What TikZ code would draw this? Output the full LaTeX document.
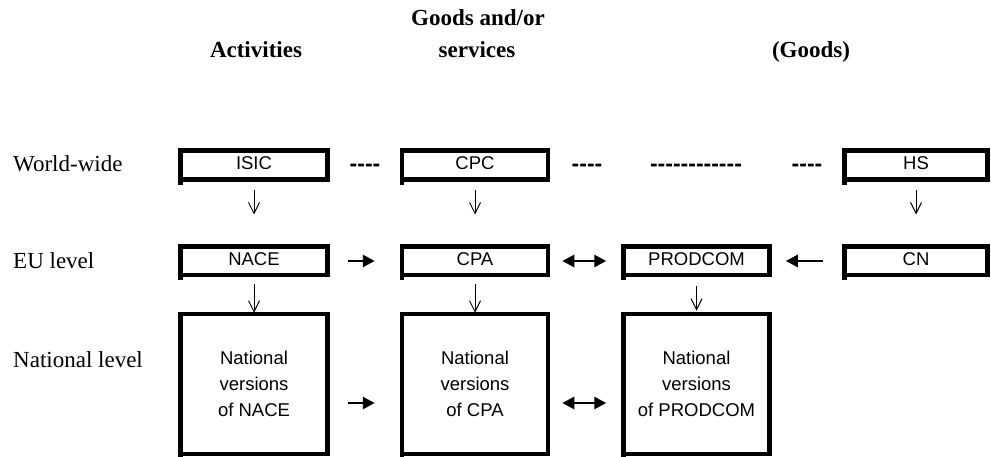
\documentclass[tikz,border=0pt]{standalone}
\usepackage{fontspec}
\setmainfont{Liberation Serif}
\newfontfamily\arialf{Liberation Sans}
\usetikzlibrary{arrows.meta}
\begin{document}
\begin{tikzpicture}[x=1pt,y=-1pt,
  clbox/.style={draw, line width=4.5pt, inner sep=0pt, font=\arialf\fontsize{18.5}{26}\selectfont, text height=13.5pt, text depth=5pt, minimum height=29pt},
  natbox/.style={draw, line width=4.5pt, inner sep=0pt, font=\arialf\fontsize{18.5}{26.3}\selectfont, align=center, minimum height=140pt, minimum width=147pt},
  lbl/.style={anchor=base west, inner sep=0pt, font=\fontsize{23}{27}\selectfont},
  hdr/.style={anchor=base, inner sep=0pt, font=\bfseries\fontsize{23}{27}\selectfont},
  dsh/.style={anchor=base, inner sep=0pt, font=\arialf\bfseries\fontsize{23}{27}\selectfont},
  thinarr/.style={line width=1pt, -{Straight Barb[length=11pt,width=11pt,line width=1pt]}},
  thkarr/.style={line width=2.7pt, -{Triangle[length=12pt,width=12pt]}},
  bothway/.style={line width=2.7pt, {Triangle[length=12pt,width=12pt]}-{Triangle[length=12pt,width=12pt]}}
]
\useasboundingbox (0,0) rectangle (991,457);

% headers
\node[hdr] (h1) at (256,58) {Activities};
\node[hdr] (h2a) at (478,26) {Goods and/or};
\node[hdr] (h2b) at (477,58) {services};
\node[hdr] (h3) at (811,58) {(Goods)};

% row labels
\node[lbl] (lw) at (13,172) {World-wide};
\node[lbl] (le) at (13,269) {EU level};
\node[lbl] (ln) at (13,367) {National level};

% top row
\node[clbox, minimum width=147pt] (isic) at (254,165) {ISIC};
\node[clbox, minimum width=146pt] (cpc) at (475,165) {CPC};
\node[clbox, minimum width=143pt] (hs) at (916,165) {HS};
\node[dsh] (d1) at (365,172) {-{}-{}-{}-};
\node[dsh] (d2) at (587,172) {-{}-{}-{}-};
\node[dsh] (d3) at (696,172) {-{}-{}-{}-{}-{}-{}-{}-{}-{}-{}-{}-};
\node[dsh] (d4) at (807,172) {-{}-{}-{}-};

% EU row
\node[clbox, minimum width=147pt, minimum height=28.5pt] (nace) at (254,261) {NACE};
\node[clbox, minimum width=146pt, minimum height=28.5pt] (cpa) at (475,261) {CPA};
\node[clbox, minimum width=146pt, minimum height=28.5pt] (prodcom) at (696.5,261) {PRODCOM};
\node[clbox, minimum width=143pt, minimum height=28.5pt] (cn) at (916,261) {CN};

% national row
\node[natbox] (nnace) at (254,384) {National\\versions\\of NACE};
\node[natbox, minimum width=146pt] (ncpa) at (475,384) {National\\versions\\of CPA};
\node[natbox, minimum width=146pt] (nprod) at (696.5,384) {National\\versions\\of PRODCOM};

% notches
\foreach \n in {isic,cpc,hs,nace,cpa,prodcom,cn,nnace,ncpa,nprod}
  \fill (\n.south west) rectangle ++(4.5pt,-3pt);

% vertical arrows
\draw[thinarr, shorten <=8pt, shorten >=30pt] (isic) -- (nace);
\draw[thinarr, shorten <=8pt, shorten >=30pt] (cpc) -- (cpa);
\draw[thinarr, shorten <=8pt, shorten >=30pt] (hs) -- (cn);
\draw[thinarr, shorten <=7pt, shorten >=-1pt] (nace) -- (nnace);
\draw[thinarr, shorten <=7pt, shorten >=-1pt] (cpa) -- (ncpa);
\draw[thinarr, shorten <=9pt, shorten >=1pt] (prodcom) -- (nprod);

% horizontal arrows EU
\draw[thkarr, shorten <=18pt, shorten >=25pt] (nace) -- (cpa);
\draw[bothway, shorten <=12pt, shorten >=15pt] (cpa) -- (prodcom);
\draw[thkarr, shorten <=19pt, shorten >=14pt] (cn) -- (prodcom);

% horizontal arrows national
\draw[thkarr, shorten <=18pt, shorten >=25pt] ([yshift=-19pt]nnace.east) -- ([yshift=-19pt]ncpa.west);
\draw[bothway, shorten <=12pt, shorten >=15pt] ([yshift=-19pt]ncpa.east) -- ([yshift=-19pt]nprod.west);
\end{tikzpicture}
\end{document}
